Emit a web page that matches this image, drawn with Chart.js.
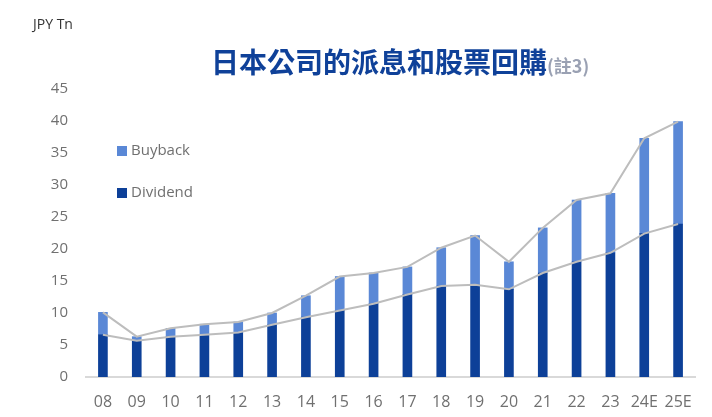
<!DOCTYPE html>
<html>
<head>
<meta charset="utf-8">
<script src="https://cdn.jsdelivr.net/npm/chart.js@4.4.1/dist/chart.umd.min.js"></script>
<style>
  html, body { margin: 0; padding: 0; background: #fff; }
  #wrap { width: 712px; height: 417px; position: relative; }
</style>
</head>
<body>
<div id="wrap"><canvas id="c" width="712" height="417"></canvas></div>
<script>
// Data (JPY trillion)
const years = ['08', '09', '10', '11', '12', '13', '14', '15', '16', '17', '18', '19', '20', '21', '22', '23', '24E', '25E'];
const dividend = [6.6, 5.65, 6.3, 6.6, 6.95, 8.15, 9.35, 10.4, 11.45, 12.9, 14.2, 14.4, 13.7, 16.25, 18.0, 19.4, 22.4, 23.9];
const total = [10.1, 6.3, 7.6, 8.25, 8.6, 10.0, 12.7, 15.7, 16.25, 17.2, 20.2, 22.1, 18.0, 23.3, 27.65, 28.7, 37.3, 39.9];
const buyback = total.map((t, i) => +(t - dividend[i]).toFixed(2));
const yTicks = [0, 5, 10, 15, 20, 25, 30, 35, 40, 45];

const BLUE_DARK = '#0d4098';
const BLUE_LIGHT = '#5a88d6';
const FONT = '"Open Sans", "Noto Sans", sans-serif';

// title, unit label and the small legend in the upper left
const decor = {
  id: 'decor',
  afterDraw(chart) {
    const ctx = chart.ctx;
    ctx.save();
    ctx.fillStyle = '#333333';
    ctx.font = '14px ' + FONT;
    ctx.textBaseline = 'middle';
    ctx.fillText('JPY Tn', 33, 25);

    ctx.font = 'bold 28px "Noto Sans CJK TC", sans-serif';
    ctx.fillStyle = '#0f4199';
    const main = '日本公司的派息和股票回購';
    ctx.textBaseline = 'alphabetic';
    ctx.fillText(main, 211, 73);
    const w = ctx.measureText(main).width;
    ctx.font = 'bold 18px "Noto Sans CJK TC", sans-serif';
    ctx.fillStyle = '#9aa1b3';
    ctx.fillText('(註3)', 211 + w, 73);

    // legend
    const items = [['Buyback', BLUE_LIGHT, 151], ['Dividend', BLUE_DARK, 193]];
    ctx.font = '15px ' + FONT;
    ctx.textBaseline = 'middle';
    items.forEach(([label, col, y]) => {
      ctx.fillStyle = col;
      ctx.fillRect(117, y - 5, 10, 10);
      ctx.fillStyle = '#707070';
      ctx.fillText(label, 131, y);
    });
    ctx.restore();
  }
};

new Chart(document.getElementById('c'), {
  data: {
    labels: years,
    datasets: [
      { type: 'line', label: 'Total', data: total, stack: 'l1', borderColor: '#bdbdbd', borderWidth: 2, pointRadius: 0, tension: 0, order: 0 },
      { type: 'line', label: 'Dividend line', data: dividend, stack: 'l2', borderColor: '#bdbdbd', borderWidth: 2, pointRadius: 0, tension: 0, order: 0 },
      { type: 'bar', label: 'Dividend', data: dividend, stack: 'bars', backgroundColor: BLUE_DARK, barThickness: 9, order: 1 },
      { type: 'bar', label: 'Buyback', data: buyback, stack: 'bars', backgroundColor: BLUE_LIGHT, barThickness: 9, order: 1 }
    ]
  },
  options: {
    responsive: false,
    animation: false,
    layout: { padding: { top: 89, right: 17, bottom: 0, left: 0 } },
    plugins: { legend: { display: false }, tooltip: { enabled: false }, title: { display: false } },
    scales: {
      x: {
        stacked: true,
        afterFit(scale) { scale.height = 40; },
        grid: { display: false },
        border: { display: true, color: '#d9d9d9', width: 2 },
        ticks: { color: '#707070', font: { family: FONT, size: 16 }, padding: 8, maxRotation: 0, autoSkip: false }
      },
      y: {
        stacked: true,
        min: 0,
        max: 45,
        afterFit(scale) { scale.width = 86; },
        afterBuildTicks(scale) { scale.ticks = yTicks.map(v => ({ value: v })); },
        grid: { display: false, drawTicks: false },
        border: { display: false },
        ticks: { color: '#707070', font: { family: FONT, size: 15 }, padding: 18 }
      }
    }
  },
  plugins: [decor]
});
</script>
</body>
</html>
